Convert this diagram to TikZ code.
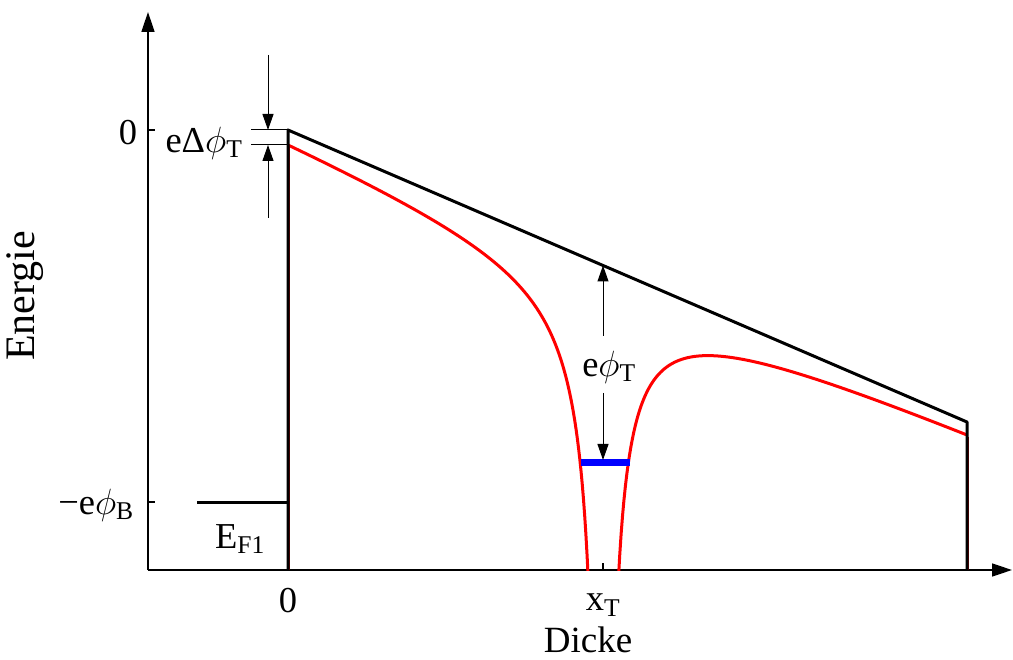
\RequirePackage{fix-cm}
\documentclass[tikz,border=0pt]{standalone}
\usepackage{fontspec}
\setmainfont{Liberation Serif}
\newfontfamily\tnr{Liberation Serif}
\usetikzlibrary{arrows.meta}
\begin{document}
\begin{tikzpicture}[x=1pt,y=-1pt,
  lbl/.style={inner sep=0pt,font=\tnr\fontsize{36.5}{42}\selectfont},
  biglbl/.style={inner sep=0pt,font=\tnr\fontsize{37}{42}\selectfont},
  vlbl/.style={inner sep=0pt,rotate=90,font=\tnr\fontsize{42}{48}\selectfont},
  axis/.style={line width=1.5pt},
  axarrow/.style={-{Triangle[length=20pt,width=13pt]}},
  dimarrow/.style={line width=1pt,-{Triangle[length=16pt,width=11pt]}},
  band/.style={line width=3pt,line join=round},
  redband/.style={red,line width=3pt},
  trap/.style={blue,line width=7pt}]
\useasboundingbox (0,0) rectangle (1013,660);
% axes
\coordinate (O) at (148,570);
\coordinate (ytop) at (148,12);
\coordinate (xend) at (1012,570);
\draw[axis,axarrow] (O) -- (ytop);
\draw[axis,axarrow] (O) -- (xend);
% ticks
\draw[axis] (148,130) -- (155,130);
\draw[axis] (148,502) -- (155,502);
\draw[axis] (603,570) -- (603,563);
% red curve
\begin{scope}
\clip (148,0) rectangle (1013,570);
\draw[redband,samples=250,domain=288:592] plot (\x,{130+0.43004*(\x-288)+4725/(603-\x)});
\draw[redband,samples=250,domain=614:967] plot (\x,{130+0.43004*(\x-288)+4725/(\x-603)});
\end{scope}
\draw[red!70!black,line width=3pt] (288,145) -- (288,570);
\draw[red!70!black,line width=3pt] (967,437) -- (967,570);
% black conduction band
\coordinate (A) at (288,130);
\coordinate (B) at (967,422);
\draw[band] (288,570) -- (A) -- (B) -- (967,570);
% Fermi level
\coordinate (F1) at (197,502);
\coordinate (F2) at (288,502);
\draw[line width=3pt] (F1) -- (F2);
% trap level
\coordinate (T1) at (581,463);
\coordinate (T2) at (630,463);
\draw[trap] (T1) -- (T2);
% e Delta phi_T
\coordinate (D1) at (251,130);
\coordinate (D2) at (251,145);
\coordinate (D3) at (288,145);
\draw[line width=1pt] (D1) -- (A);
\draw[line width=1pt] (D2) -- (D3);
\coordinate (U1) at (268,55);
\coordinate (U2) at (268,130);
\coordinate (L1) at (268,218);
\coordinate (L2) at (268,145);
\draw[dimarrow] (U1) -- (U2);
\draw[dimarrow] (L1) -- (L2);
% e phi_T
\node[lbl] (ephiT) at (609,367) {e$\phi$\textsubscript{T}};
\coordinate (P1) at (603,265.5);
\coordinate (P2) at (603,460);
\draw[dimarrow] (603,336) -- (P1);
\draw[dimarrow] (603,393) -- (P2);
% labels
\node[vlbl] (energie) at (25,296) {Energie};
\node[biglbl] (dicke) at (588,640) {Dicke};
\node[lbl] (x0) at (288,601) {0};
\node[lbl] (xT) at (603,605) {x\textsubscript{T}};
\node[lbl] (y0) at (128,133) {0};
\node[lbl] (phiB) at (96,505) {−e$\phi$\textsubscript{B}};
\node[lbl] (EF) at (240,539) {E\textsubscript{F1}};
\node[lbl] (dphi) at (204,143) {eΔ$\phi$\textsubscript{T}};
\end{tikzpicture}
\end{document}
